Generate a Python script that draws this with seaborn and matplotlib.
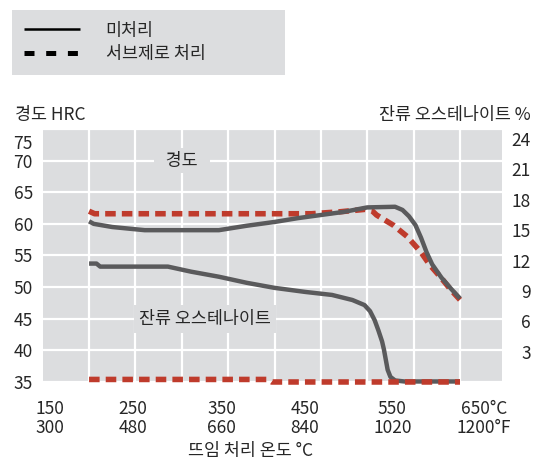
import matplotlib
matplotlib.use("Agg")
import matplotlib.pyplot as plt
import matplotlib.transforms as mtransforms
from matplotlib.lines import Line2D
from matplotlib.patches import Rectangle
import seaborn as sns

# Hardness (HRC) against tempering temperature (°C)
temp_hard_plain = [200, 205, 225, 260, 340, 370, 400, 425, 450, 475, 500, 530,
                   538, 545, 552, 558, 564, 570, 580, 590, 600]
hard_plain = [60.4, 60.0, 59.5, 59.0, 59.0, 59.7, 60.3, 60.9, 61.4, 61.9, 62.6, 62.7,
              62.2, 61.2, 59.8, 57.8, 55.5, 53.6, 51.5, 49.8, 48.2]
temp_hard_subzero = [200, 206, 440, 470, 498, 505, 510, 528, 543, 558, 567, 580, 590, 600]
hard_subzero = [62.0, 61.6, 61.6, 61.9, 62.3, 62.1, 61.4, 59.8, 58.0, 55.5, 53.6, 51.4, 49.6, 48.0]

# Retained austenite (%) against tempering temperature (°C)
temp_ra_plain = [200, 208, 212, 285, 310, 340, 370, 400, 433, 462, 484, 497, 503,
                 508, 512, 516, 518, 520, 522, 525, 530, 540, 600]
ra_plain = [11.7, 11.7, 11.4, 11.4, 10.9, 10.4, 9.8, 9.3, 8.9, 8.6, 8.1, 7.6, 7.0,
            6.1, 5.1, 4.0, 3.2, 2.2, 1.2, 0.5, 0.15, 0.05, 0.05]
temp_ra_subzero = [200, 393, 397, 600]
ra_subzero = [0.25, 0.25, 0.0, 0.0]

series_labels = ["미처리", "서브제로 처리"]
celsius_labels = ["150", "250", "350", "450", "550", "650°C"]
fahrenheit_labels = ["300", "480", "660", "840", "1020", "1200°F"]
hrc_ticks = [35, 40, 45, 50, 55, 60, 65, 70, 75]
ra_ticks = [3, 6, 9, 12, 15, 18, 21, 24]
grid_temps = [200, 250, 300, 350, 400, 450, 500, 550, 600]

BG = "#dcdddf"
GREY = "#5a5a5c"
RED = "#bf3b2c"
FS = 12.5

sns.set_theme(style="darkgrid", rc={"axes.facecolor": BG, "grid.color": "white",
                                    "grid.linewidth": 1.6})
plt.rcParams["font.family"] = ["Noto Sans CJK KR", "DejaVu Sans"]
plt.rcParams["font.size"] = FS

fig = plt.figure(figsize=(5.33, 4.59), dpi=100)
fig.patch.set_facecolor("white")
ax = fig.add_axes([0.0801, 0.1678, 0.8612, 0.5512])
ax2 = ax.twinx()

# hardness curves (sub-zero underneath)
sns.lineplot(x=temp_hard_subzero, y=hard_subzero, ax=ax, color=RED, lw=4.0,
             linestyle=(0, (1.9, 1.1)), dash_capstyle="butt", legend=False, zorder=3)
sns.lineplot(x=temp_hard_plain, y=hard_plain, ax=ax, color=GREY, lw=3.2,
             solid_capstyle="butt", legend=False, zorder=4)

# retained austenite curves (sub-zero on top)
sns.lineplot(x=temp_ra_plain, y=ra_plain, ax=ax2, color=GREY, lw=3.2,
             solid_capstyle="butt", legend=False, clip_on=False, zorder=3)
sns.lineplot(x=temp_ra_subzero, y=ra_subzero, ax=ax2, color=RED, lw=4.0,
             linestyle=(0, (1.9, 1.1)), dash_capstyle="butt", legend=False,
             clip_on=False, zorder=4)

ax.set_xlim(150, 645)
ax.set_ylim(35, 75)
ax2.set_ylim(0, 25)

for a in (ax, ax2):
    for s in a.spines.values():
        s.set_visible(False)

# grid: vertical at every 50 °C, horizontal at every 5 HRC
ax.set_xticks(grid_temps, minor=True)
ax.grid(False, which="major", axis="x")
ax.grid(True, which="minor", axis="x", color="white", lw=1.6)
ax.grid(True, which="major", axis="y", color="white", lw=1.6)
ax2.grid(False)
ax.tick_params(axis="x", which="minor", length=0)

# temperature tick labels, two rows (°C over °F)
ax.set_xticks([158, 247, 343, 433, 527, 626])
ax.set_xticklabels([f"{c}\n{f}" for c, f in zip(celsius_labels, fahrenheit_labels)],
                   linespacing=1.05)
ax.tick_params(axis="x", which="major", length=0, pad=13, labelsize=FS)

ax.set_yticks(hrc_ticks)
ax.set_yticklabels([str(v) for v in hrc_ticks])
ax.tick_params(axis="y", length=0, pad=7, labelsize=FS)

ax2.set_yticks(ra_ticks)
ax2.set_yticklabels([str(v) for v in ra_ticks])
ax2.tick_params(axis="y", length=0, pad=21, labelsize=FS)
for lab in ax2.get_yticklabels():
    lab.set_horizontalalignment("right")

ax.set_xlabel("뜨임 처리 온도 °C", fontsize=FS, va="center")
ax.xaxis.set_label_coords(0.452, -0.274)
ax.set_ylabel("경도 HRC", fontsize=FS, rotation=0, ha="left", va="center")
ax.yaxis.set_label_coords(-0.06, 1.055)
ax2.set_ylabel("잔류 오스테나이트 %", fontsize=FS, rotation=0, ha="right", va="center")
ax2.yaxis.set_label_coords(1.062, 1.055)

# in-plot captions sitting on the grid
ax.text(300, 70, "\u2002경도\u2002", ha="center", va="center", fontsize=FS, zorder=5,
        bbox=dict(boxstyle="square,pad=0.2", fc=BG, ec="none"))
ax.text(325, 45, "잔류 오스테나이트", ha="center", va="center", fontsize=FS, zorder=5,
        bbox=dict(boxstyle="square,pad=0.3", fc=BG, ec="none"))

# legend panel
fig.add_artist(Rectangle((0.0225, 0.8366), 0.512, 0.1416, transform=fig.transFigure,
                         fc=BG, ec="none", zorder=0))
handles = [Line2D([], [], color="black", lw=1.8, solid_capstyle="butt"),
           Line2D([], [], color="black", lw=3.6, linestyle=(0, (2.0, 2.34)),
                  dash_capstyle="butt")]
fig.legend(handles, series_labels, loc="upper left", bbox_to_anchor=(0.045, 0.953),
           frameon=False, handlelength=3.2, handletextpad=1.5, labelspacing=0.3,
           borderpad=0, borderaxespad=0, fontsize=FS)

# lift the top HRC label off the frame edge
fig.canvas.draw()
shift = mtransforms.ScaledTranslation(0, -0.13, fig.dpi_scale_trans)
top_lab = ax.yaxis.get_major_ticks()[-1].label1
top_lab.set_transform(top_lab.get_transform() + shift)

fig.savefig("out.png", dpi=100)
